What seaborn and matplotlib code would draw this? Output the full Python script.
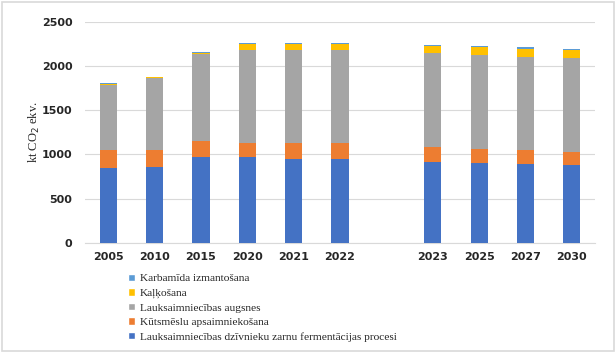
import matplotlib
matplotlib.use("Agg")
import matplotlib.pyplot as plt
import seaborn as sns
import pandas as pd
import numpy as np
from matplotlib.patches import Rectangle, Patch

years = ["2005", "2010", "2015", "2020", "2021", "2022", "2023", "2025", "2027", "2030"]
fermentacija = [845, 860, 966, 966, 947, 947, 916, 901, 890, 879]
kutsmeslu = [200, 185, 184, 161, 180, 180, 166, 155, 155, 150]
augsnes = [745, 815, 981, 1052, 1052, 1052, 1063, 1063, 1059, 1064]
kalkosana = [3, 10, 15, 65, 65, 65, 76, 91, 90, 90]
karbamida = [12, 10, 10, 15, 15, 15, 15, 13, 16, 15]

series_names = [
    "Lauksaimniecības dzīvnieku zarnu fermentācijas procesi",
    "Kūtsmēslu apsaimniekošana",
    "Lauksaimniecības augsnes",
    "Kaļķošana",
    "Karbamīda izmantošana",
]
series_vals = [fermentacija, kutsmeslu, augsnes, kalkosana, karbamida]
colors = ["#4472C4", "#ED7D31", "#A5A5A5", "#FFC000", "#5B9BD5"]

order = years[:6] + [" "] + years[6:]

fig = plt.figure(figsize=(6.16, 3.52), dpi=100)
ax = fig.add_axes([0.138, 0.3105, 0.828, 0.6275])
sns.set_style("white")
plt.rcParams["font.family"] = ["DejaVu Serif"]

cum = np.cumsum(np.array(series_vals), axis=0)
for i in reversed(range(len(series_names))):
    df = pd.DataFrame({"year": years, "value": cum[i]})
    sns.barplot(data=df, x="year", y="value", order=order, color=colors[i],
                width=0.37, saturation=1, ax=ax, zorder=3, linewidth=0,
                edgecolor="none")

ax.set_ylim(0, 2500)
ax.set_yticks(range(0, 2501, 500))
ax.yaxis.grid(True, color="#D9D9D9", linewidth=0.8, zorder=0)
ax.set_axisbelow(True)
for s in ["top", "right", "left"]:
    ax.spines[s].set_visible(False)
ax.spines["bottom"].set_color("#D9D9D9")
ax.tick_params(axis="x", length=0, pad=7)
ax.tick_params(axis="y", length=0, pad=9)
for lab in ax.get_xticklabels() + ax.get_yticklabels():
    lab.set_fontfamily("DejaVu Sans")
    lab.set_fontweight("bold")
    lab.set_fontsize(8)
    lab.set_color("#262626")
ax.set_xlabel("")
ax.set_ylabel("kt CO$_2$ ekv.", fontsize=9, color="#262626", family="Liberation Serif", labelpad=0)

handles = [Patch(facecolor=colors[i]) for i in reversed(range(5))]
labels = [series_names[i] for i in reversed(range(5))]
fig.legend(handles, labels, loc="upper left", bbox_to_anchor=(0.208, 0.222),
           frameon=False, prop={"family": "Liberation Serif", "size": 8.2},
           handlelength=0.6, handleheight=0.6,
           handletextpad=0.4, labelspacing=0.42, borderaxespad=0, borderpad=0,
           labelcolor="#262626")

fig.patches.append(Rectangle((0.003, 0.004), 0.994, 0.99, transform=fig.transFigure,
                             fill=False, edgecolor="#D9D9D9", linewidth=1.2))

fig.savefig("out.png", dpi=100)
